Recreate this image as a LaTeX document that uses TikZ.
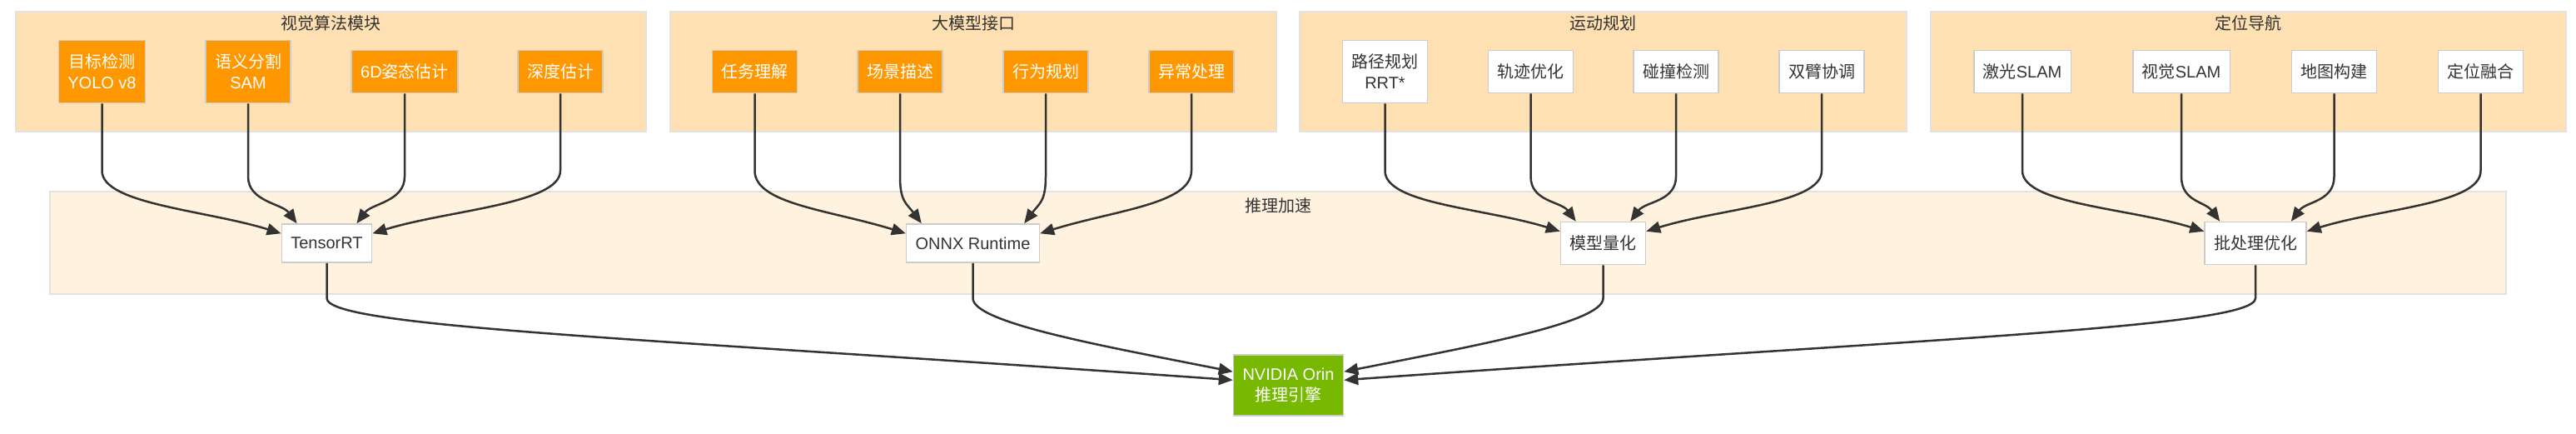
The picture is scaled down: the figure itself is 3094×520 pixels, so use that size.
\documentclass[tikz,border=0pt]{standalone}
\usepackage{fontspec}
\setmainfont{Liberation Sans}
\newfontfamily\cjk{Noto Sans CJK SC}
\usetikzlibrary{arrows.meta}
\definecolor{clusterA}{HTML}{FFE0B2}
\definecolor{clusterB}{HTML}{FFF3E0}
\definecolor{clusterline}{HTML}{E2E2E2}
\definecolor{orangebox}{HTML}{FF9800}
\definecolor{greenbox}{HTML}{76B900}
\definecolor{nodeline}{HTML}{CCCCCC}
\definecolor{ink}{HTML}{333333}
\newcommand\edgeOL[2]{\draw[edge] (#1.south) -- (#1.south |- yA) .. controls +(0,40) and +(-90,-28) .. ([yshift=-12pt]#2.north west);}
\newcommand\edgeOR[2]{\draw[edge] (#1.south) -- (#1.south |- yA) .. controls +(0,40) and +(90,-28) .. ([yshift=-12pt]#2.north east);}
\newcommand\edgeIL[2]{\draw[edge] (#1.south) -- (#1.south |- yB) .. controls +(0,30) and +(-18,-24) .. ([xshift=19pt]#2.north west);}
\newcommand\edgeIR[2]{\draw[edge] (#1.south) -- (#1.south |- yB) .. controls +(0,30) and +(18,-24) .. ([xshift=-19pt]#2.north east);}
\begin{document}
\begin{tikzpicture}[x=1pt,y=-1pt,
  every node/.style={font=\fontsize{20}{25}\selectfont},
  clusterbox/.style={draw=clusterline, line width=1.5pt, inner sep=0pt},
  ctitle/.style={text=ink, inner sep=0pt},
  nbox/.style={draw=nodeline, line width=1.5pt, inner xsep=11pt, inner ysep=0pt, minimum height=51pt, align=center, text=ink},
  obox/.style={nbox, fill=orangebox, text=white},
  wbox/.style={nbox, fill=white},
  twoline/.style={minimum height=75pt},
  edge/.style={draw=ink, line width=2.5pt, -{Triangle[length=17pt,width=14pt]}}
]
\fill[white] (0,0) rectangle (3094,520);
\useasboundingbox (0,0) rectangle (3094,520);
\coordinate (yA) at (0,205);
\coordinate (yB) at (0,212);
\coordinate (yC) at (0,358);

% clusters
\node[clusterbox, fill=clusterA, minimum width=757pt, minimum height=144pt] (c1) at (397.5,86) {};
\node[clusterbox, fill=clusterA, minimum width=728pt, minimum height=144pt] (c2) at (1169,86) {};
\node[clusterbox, fill=clusterA, minimum width=729pt, minimum height=144pt] (c3) at (1925.5,86) {};
\node[clusterbox, fill=clusterA, minimum width=763pt, minimum height=144pt] (c4) at (2700.5,86) {};
\node[clusterbox, fill=clusterB, minimum width=2950pt, minimum height=123pt] (c5) at (1535,291.5) {};
\node[ctitle] (t1) at (397.5,28) {\cjk 视觉算法模块};
\node[ctitle] (t2) at (1169,28) {\cjk 大模型接口};
\node[ctitle] (t3) at (1925.5,28) {\cjk 运动规划};
\node[ctitle] (t4) at (2700.5,28) {\cjk 定位导航};
\node[ctitle] (t5) at (1535,247) {\cjk 推理加速};

% vision
\node[obox, twoline] (v1) at (122.5,86) {{\cjk 目标检测}\\YOLO v8};
\node[obox, twoline] (v2) at (298,86) {{\cjk 语义分割}\\SAM};
\node[obox] (v3) at (486,86) {6D{\cjk 姿态估计}};
\node[obox] (v4) at (673,86) {\cjk 深度估计};
% llm
\node[obox] (l1) at (906.5,86) {\cjk 任务理解};
\node[obox] (l2) at (1081,86) {\cjk 场景描述};
\node[obox] (l3) at (1256,86) {\cjk 行为规划};
\node[obox] (l4) at (1431,86) {\cjk 异常处理};
% motion
\node[wbox, twoline] (m1) at (1663.5,86) {{\cjk 路径规划}\\RRT*};
\node[wbox] (m2) at (1838.5,86) {\cjk 轨迹优化};
\node[wbox] (m3) at (2013,86) {\cjk 碰撞检测};
\node[wbox] (m4) at (2188,86) {\cjk 双臂协调};
% navigation
\node[wbox] (n1) at (2429,86) {{\cjk 激光}SLAM};
\node[wbox] (n2) at (2620,86) {{\cjk 视觉}SLAM};
\node[wbox] (n3) at (2803.5,86) {\cjk 地图构建};
\node[wbox] (n4) at (2979.5,86) {\cjk 定位融合};
% acceleration
\node[wbox, minimum height=46pt] (a1) at (392.5,292) {TensorRT};
\node[wbox, minimum height=46pt] (a2) at (1168.5,292) {ONNX Runtime};
\node[wbox] (a3) at (1925.5,292) {\cjk 模型量化};
\node[wbox] (a4) at (2709,292) {\cjk 批处理优化};
% engine
\node[nbox, fill=greenbox, text=white, minimum height=73pt] (orin) at (1547.5,462.5) {NVIDIA Orin\\{\cjk 推理引擎}};

% top edges
\edgeOL{v1}{a1} \edgeIL{v2}{a1} \edgeIR{v3}{a1} \edgeOR{v4}{a1}
\edgeOL{l1}{a2} \edgeIL{l2}{a2} \edgeIR{l3}{a2} \edgeOR{l4}{a2}
\edgeOL{m1}{a3} \edgeIL{m2}{a3} \edgeIR{m3}{a3} \edgeOR{m4}{a3}
\edgeOL{n1}{a4} \edgeIL{n2}{a4} \edgeIR{n3}{a4} \edgeOR{n4}{a4}

% bottom edges
\draw[edge] (a1.south) -- (a1.south |- yC) .. controls +(0,35) and +(-700,-50) .. ([yshift=-31pt]orin.north west);
\draw[edge] (a2.south) -- (a2.south |- yC) .. controls +(0,30) and +(-150,-30) .. ([yshift=-21pt]orin.north west);
\draw[edge] (a3.south) -- (a3.south |- yC) .. controls +(0,30) and +(150,-30) .. ([yshift=-21pt]orin.north east);
\draw[edge] (a4.south) -- (a4.south |- yC) .. controls +(0,35) and +(700,-50) .. ([yshift=-31pt]orin.north east);
\end{tikzpicture}
\end{document}
